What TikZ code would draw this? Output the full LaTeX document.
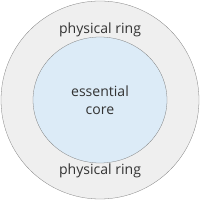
\documentclass[tikz,border=0pt]{standalone}
\usepackage{fontspec}
\setmainfont{Open Sans}
\usetikzlibrary{shapes,positioning}

\definecolor{ringfill}{HTML}{EFEFEF}
\definecolor{corefill}{HTML}{DCEBF7}
\definecolor{edgegray}{HTML}{7A7A7A}

\begin{document}
\begin{tikzpicture}[
        ringzone/.style={draw=edgegray, fill=ringfill, circle, minimum size=9.9cm, inner sep=0pt},
        corezone/.style={draw=edgegray, fill=corefill, ellipse, minimum width=6.7cm, minimum height=6.3cm, inner sep=0pt},
        label/.style={font=\fontsize{20}{26}\selectfont, text=black!80, align=center}
    ]
        \useasboundingbox (0,0) rectangle (10,10);

        % Outer and inner zones
        \node (ring) [ringzone] at (5,5) {};
        \node (core) [corezone] at (5,5) {};

        % Texts
        \node (core text) [label] at (core.center) {essential\\core};
        \node (ring top) [label] at (5,8.5) {physical ring};
        \node (ring bottom) [label] at (5,1.45) {physical ring};

    \end{tikzpicture}
\end{document}
